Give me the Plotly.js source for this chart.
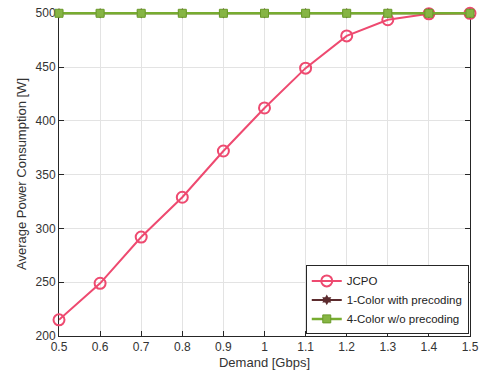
<!DOCTYPE html>
<html><head><meta charset="utf-8">
<script src="https://cdn.plot.ly/plotly-3.0.1.min.js"></script>
<style>html,body{margin:0;padding:0;background:#fff}#c{width:488px;height:378px}</style>
</head><body><div id="c"></div>
<script>
const demand = [0.5,0.6,0.7,0.8,0.9,1.0,1.1,1.2,1.3,1.4,1.5];
const jcpo = [215,249,292,329,372,412,449,479,494,499.5,500];
const oneColor = [500,500,500,500,500,500,500,500,500,500,500];
const fourColor = [500,500,500,500,500,500,500,500,500,500,500];
const names = ['JCPO','1-Color with precoding','4-Color w/o precoding'];
const xTicks = [0.5,0.6,0.7,0.8,0.9,1,1.1,1.2,1.3,1.4,1.5];
const yTicks = [200,250,300,350,400,450,500];

const traces = [
 {x:demand,y:jcpo,name:names[0],mode:'lines+markers',cliponaxis:false,line:{color:'#EE4A70',width:2},
  marker:{symbol:'circle-open',size:11,color:'#EE4A70',line:{width:2,color:'#EE4A70'}}},
 {x:demand,y:oneColor,name:names[1],mode:'lines+markers',cliponaxis:false,line:{color:'#5C2B2E',width:2},
  marker:{symbol:'hexagram',size:8,color:'#5C2B2E'}},
 {x:demand,y:fourColor,name:names[2],mode:'lines+markers',cliponaxis:false,line:{color:'#77AC30',width:2.5},
  marker:{symbol:'square',size:8,color:'#86B544',line:{width:1,color:'#6A9A2A'}}}
];
const axisCommon = {showline:true,linecolor:'#262626',linewidth:1,mirror:'ticks',ticks:'inside',ticklen:5,
  tickcolor:'#262626',showgrid:true,gridcolor:'#E3E3E3',gridwidth:1,zeroline:false,layer:'below traces',
  tickfont:{family:'Liberation Sans, Arial',size:12,color:'#333'}};
const layout = {
 width:488,height:378,margin:{l:59,r:18,t:12,b:42},paper_bgcolor:'#fff',plot_bgcolor:'#fff',
 showlegend:true,
 xaxis:Object.assign({},axisCommon,{mirror:false,range:[0.5,1.5],tickvals:xTicks,ticktext:xTicks.map(String),
   title:{text:'Demand [Gbps]',font:{family:'Liberation Sans, Arial',size:13,color:'#333'},standoff:4}}),
 yaxis:Object.assign({},axisCommon,{range:[200,501.2],tickvals:yTicks,
   title:{text:'Average Power Consumption [W]',font:{family:'Liberation Sans, Arial',size:13,color:'#333'},standoff:6}}),
 legend:{x:0.997,y:0.005,xanchor:'right',yanchor:'bottom',bgcolor:'#fff',bordercolor:'#262626',borderwidth:1,
   font:{family:'Liberation Sans, Arial',size:11.5,color:'#222'},tracegroupgap:0,itemwidth:30}
};
Plotly.newPlot('c',traces,layout,{displayModeBar:false,staticPlot:true});
</script></body></html>
